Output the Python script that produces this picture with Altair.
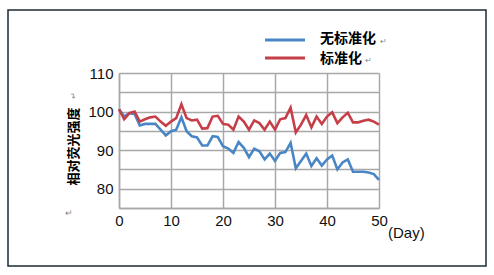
import altair as alt
import pandas as pd

days = list(range(51))
no_norm = [100.6, 98.7, 99.6, 99.4, 96.4, 96.8, 96.8, 96.8, 95.3, 93.8,
           94.9, 95.3, 98.5, 94.9, 93.6, 93.3, 91.2, 91.2, 93.6, 93.4,
           91.0, 90.4, 89.3, 92.1, 90.6, 88.2, 90.4, 89.7, 87.6, 89.1,
           87.2, 89.3, 89.5, 91.9, 85.3, 87.2, 89.1, 85.9, 87.9, 86.0,
           87.6, 88.6, 85.0, 86.8, 87.6, 84.4, 84.4, 84.4, 84.2, 83.8, 82.3]
norm = [100.6, 98.0, 99.6, 100.0, 97.4, 98.0, 98.5, 98.7, 97.4, 96.3,
        97.4, 98.3, 101.9, 98.3, 97.7, 97.9, 95.6, 95.7, 98.7, 98.9,
        96.8, 96.6, 95.3, 98.7, 97.4, 95.3, 97.7, 97.0, 95.3, 97.4,
        95.3, 98.0, 98.3, 101.0, 94.6, 96.6, 99.1, 95.9, 98.7, 96.8,
        98.7, 99.8, 97.0, 98.5, 99.7, 97.2, 97.2, 97.6, 97.9, 97.4, 96.6]
series_names = ["无标准化", "标准化"]
series_colors = ["#4a86c5", "#c63f48"]
x_ticks = [0, 10, 20, 30, 40, 50]
y_ticks = [75, 80, 85, 90, 95, 100, 105, 110]

df = pd.DataFrame({
    "day": days * 2,
    "value": no_norm + norm,
    "series": [series_names[0]] * len(days) + [series_names[1]] * len(days),
})

CJK = "Noto Sans CJK SC"
LAT = "Liberation Sans"

lines = alt.Chart(df).mark_line(strokeWidth=2.6, clip=False).encode(
    x=alt.X("day:Q", scale=alt.Scale(domain=[0, 50], nice=False),
            axis=alt.Axis(values=x_ticks, title=None, grid=True, ticks=False,
                          labelFlush=False, labelFont=LAT, labelFontSize=15,
                          labelColor="#111", labelPadding=5,
                          gridColor="#a8a8a8", gridWidth=1.5,
                          domainColor="#a8a8a8", domainWidth=1.5)),
    y=alt.Y("value:Q", scale=alt.Scale(domain=[75, 110], nice=False),
            axis=alt.Axis(values=y_ticks, grid=True, ticks=False,
                          labelExpr="datum.value % 10 == 0 && datum.value > 75 ? datum.label : ''",
                          labelFlush=False, labelFont=LAT, labelFontSize=15,
                          labelColor="#111", labelPadding=6,
                          gridColor="#a8a8a8", gridWidth=1.5,
                          domainColor="#a8a8a8", domainWidth=1.5,
                          title="相对荧光强度", titleFont=CJK, titleFontSize=13,
                          titleFontWeight="bold", titleColor="#000",
                          titleX=-46, titleY=73, titleAngle=270,
                          titleAlign="center", titleBaseline="middle")),
    color=alt.Color("series:N", scale=alt.Scale(domain=series_names, range=series_colors),
                    legend=None),
    order=alt.Order("day:Q"),
)

one = pd.DataFrame({"a": [0]})
base = alt.Chart(one)

border = base.mark_rect(fill=None, stroke="#1d2b33", strokeWidth=1.5).encode(
    x=alt.value(-111), x2=alt.value(367), y=alt.value(-63), y2=alt.value(193))

leg_blue = base.mark_rule(color=series_colors[0], strokeWidth=3).encode(
    x=alt.value(146), x2=alt.value(186), y=alt.value(-33))
leg_red = base.mark_rule(color=series_colors[1], strokeWidth=3).encode(
    x=alt.value(146), x2=alt.value(186), y=alt.value(-15))
leg_t1 = base.mark_text(text=series_names[0], font=CJK, fontSize=14, fontWeight="bold",
                        align="left", baseline="middle", color="#000").encode(
    x=alt.value(201), y=alt.value(-34))
leg_t2 = base.mark_text(text=series_names[1], font=CJK, fontSize=14, fontWeight="bold",
                        align="left", baseline="middle", color="#000").encode(
    x=alt.value(201), y=alt.value(-14))
ret1 = base.mark_text(text="↵", fontSize=8, color="#888", align="left", baseline="middle").encode(
    x=alt.value(261), y=alt.value(-31))
ret2 = base.mark_text(text="↵", fontSize=8, color="#888", align="left", baseline="middle").encode(
    x=alt.value(246), y=alt.value(-12))
ret3 = base.mark_text(text="↵", fontSize=8, color="#888", angle=270, baseline="middle").encode(
    x=alt.value(-45), y=alt.value(22))
ret4 = base.mark_text(text="↵", fontSize=9, color="#888", baseline="middle").encode(
    x=alt.value(-50), y=alt.value(140))
day_lbl = base.mark_text(text="(Day)", font=LAT, fontSize=15, align="left",
                         baseline="middle", color="#111").encode(
    x=alt.value(269), y=alt.value(160))

chart = alt.layer(
    lines, border, leg_blue, leg_red, leg_t1, leg_t2, ret1, ret2, ret3, ret4, day_lbl
).properties(
    width=260, height=135,
    autosize=alt.AutoSizeParams(type="none"),
    padding={"left": 119, "top": 73, "right": 115, "bottom": 67},
    background="white",
).configure_view(stroke=None)

chart.save("out.html", embed_options={"renderer": "svg", "actions": False})
